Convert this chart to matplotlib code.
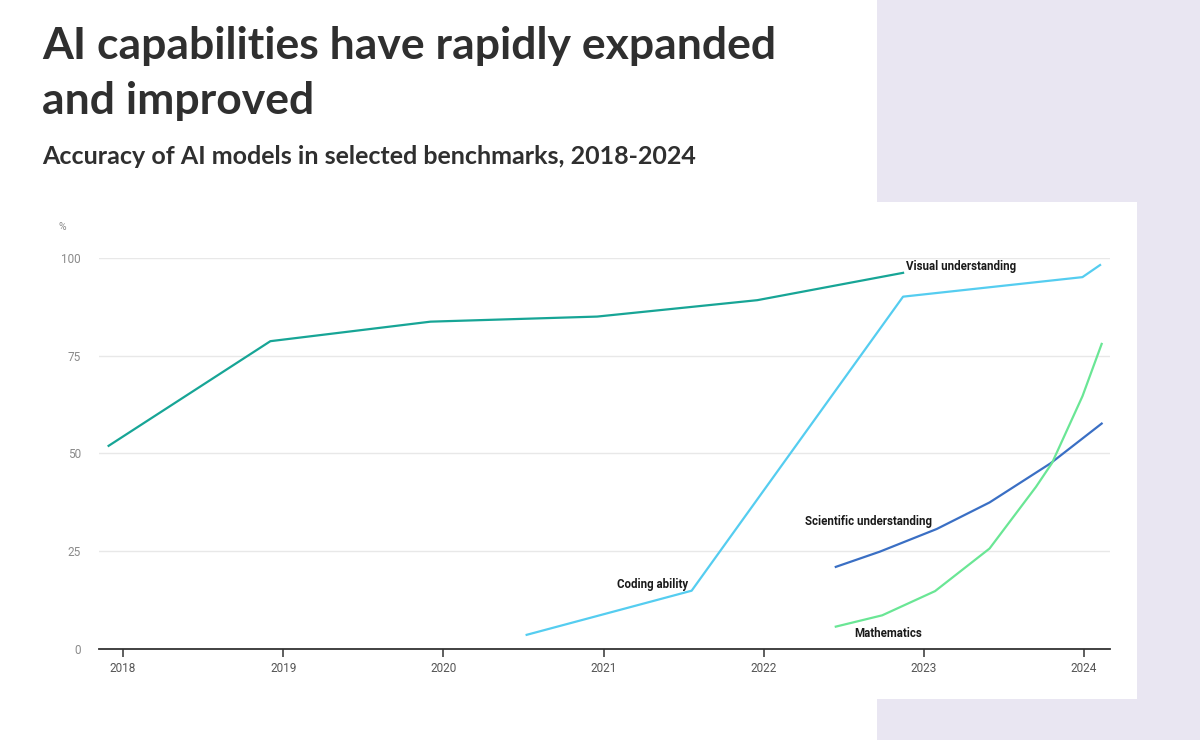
import matplotlib
matplotlib.use("Agg")
import matplotlib.pyplot as plt
from matplotlib.patches import Rectangle

# ---------------- data ----------------
visual_x = [2017.91, 2018.92, 2019.92, 2020.96, 2021.96, 2022.87]
visual_y = [51.9, 78.7, 83.7, 85.0, 89.2, 96.2]

coding_x = [2020.52, 2021.55, 2022.87, 2023.99, 2024.10]
coding_y = [3.5, 14.8, 90.1, 95.1, 98.2]

science_x = [2022.45, 2022.725, 2023.08, 2023.41, 2023.79, 2024.11]
science_y = [20.9, 24.8, 30.6, 37.4, 47.4, 57.6]

math_x = [2022.45, 2022.74, 2023.07, 2023.41, 2023.70, 2023.80, 2023.99, 2024.11]
math_y = [5.6, 8.5, 14.7, 25.6, 41.4, 47.5, 64.6, 78.0]

year_ticks = [2018, 2019, 2020, 2021, 2022, 2023, 2024]
pct_ticks = [0, 25, 50, 75, 100]

title_lines = ["AI capabilities have rapidly expanded", "and improved"]
subtitle = "Accuracy of AI models in selected benchmarks, 2018-2024"

# ---------------- figure ----------------
W, H = 1200, 740
fig = plt.figure(figsize=(12, 7.4), dpi=100)
fig.patch.set_facecolor("white")

def fx(x):
    return x / W

def fy(y):
    return 1 - y / H

# background panels
fig.patches.append(Rectangle((fx(877), 0), 1 - fx(877), 1, transform=fig.transFigure,
                             facecolor="#e9e6f2", edgecolor="none", zorder=0))
fig.patches.append(Rectangle((0, fy(699)), fx(1137), fy(202) - fy(699), transform=fig.transFigure,
                             facecolor="white", edgecolor="none", zorder=1))

title_font = ["Lato", "DejaVu Sans"]
fig.text(fx(42), fy(59), title_lines[0], fontsize=32, fontweight="bold", color="#2f2f2f",
         family=title_font, va="baseline", ha="left")
fig.text(fx(42), fy(114), title_lines[1], fontsize=32, fontweight="bold", color="#2f2f2f",
         family=title_font, va="baseline", ha="left")
fig.text(fx(42), fy(164), subtitle, fontsize=18, fontweight="bold", color="#2f2f2f",
         family=title_font, va="baseline", ha="left")

# axes
left, right = 99, 1110
bottom_px, top_px = 648.5, 258
ax = fig.add_axes([fx(left), fy(bottom_px), fx(right) - fx(left), fy(top_px) - fy(bottom_px)])
ax.set_zorder(3)
ax.patch.set_alpha(0)
ax.set_xlim(2017.85, 2024.162)
ax.set_ylim(0, 100)

for s in ["top", "right", "left"]:
    ax.spines[s].set_visible(False)
ax.spines["bottom"].set_color("#333333")
ax.spines["bottom"].set_linewidth(1.3)

ax.set_yticks(pct_ticks)
ax.set_yticklabels([str(v) for v in pct_ticks])
ax.set_xticks(year_ticks)
ax.set_xticklabels([str(v) for v in year_ticks])

lab_font = ["Roboto", "DejaVu Sans"]
ax.tick_params(axis="y", length=0, pad=13, labelsize=8.5, labelcolor="#8a8a8a")
ax.tick_params(axis="x", direction="out", length=6, width=1.1, color="#333333",
               pad=4, labelsize=8.5, labelcolor="#555555")
for lab in ax.get_xticklabels() + ax.get_yticklabels():
    lab.set_family(lab_font)

ax.grid(axis="y", color="#e8e8e8", linewidth=1)
ax.grid(axis="x", visible=False)
ax.set_axisbelow(True)

lw = 1.6
ax.plot(visual_x, visual_y, color="#17a596", lw=lw, clip_on=False, zorder=4)
ax.plot(coding_x, coding_y, color="#55cdf0", lw=lw, clip_on=False, zorder=4)
ax.plot(science_x, science_y, color="#3a6fc4", lw=lw, clip_on=False, zorder=4)
ax.plot(math_x, math_y, color="#6ae695", lw=lw, clip_on=False, zorder=4)

ann = dict(fontsize=8.3, fontweight="bold", color="#1a1a1a", family=lab_font, va="center")
ax.text(2022.89, 97.9, "Visual understanding", ha="left", **ann)
ax.text(2021.53, 16.3, "Coding ability", ha="right", **ann)
ax.text(2022.258, 32.4, "Scientific understanding", ha="left", **ann)
ax.text(2022.564, 3.9, "Mathematics", ha="left", **ann)

fig.text(fx(62), fy(227), "%", fontsize=7.5, color="#8a8a8a", family=lab_font,
         ha="center", va="center")

fig.savefig("out.png", dpi=100, facecolor=fig.get_facecolor())
